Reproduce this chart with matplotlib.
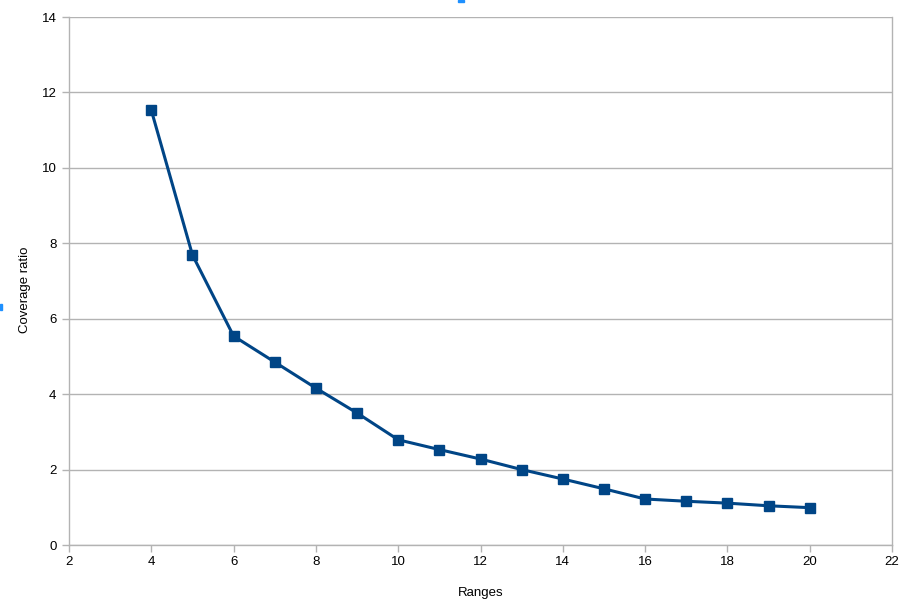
import matplotlib
matplotlib.use("Agg")
import matplotlib.pyplot as plt
from matplotlib.patches import Rectangle

plt.rcParams['font.family'] = ['Liberation Sans', 'DejaVu Sans']

ranges = [4, 5, 6, 7, 8, 9, 10, 11, 12, 13, 14, 15, 16, 17, 18, 19, 20]
coverage = [11.53, 7.69, 5.54, 4.85, 4.16, 3.50, 2.79, 2.53, 2.28, 2.00, 1.75, 1.49, 1.22, 1.16, 1.11, 1.04, 0.99]
x_ticks = [2, 4, 6, 8, 10, 12, 14, 16, 18, 20, 22]
y_ticks = [0, 2, 4, 6, 8, 10, 12, 14]

fig = plt.figure(figsize=(9.21, 6.16), dpi=100)
ax = fig.add_axes([69/921, 71/616, (892-69)/921, (545-17)/616])

grid_c = '#b3b3b3'
ax.plot(ranges, coverage, color='#004586', linewidth=2.2, marker='s',
        markersize=7, markerfacecolor='#004586', markeredgecolor='#004586', zorder=3)

ax.set_xlim(2, 22)
ax.set_ylim(0, 14)
ax.set_xticks(x_ticks)
ax.set_yticks(y_ticks)
ax.yaxis.grid(True, color=grid_c, linewidth=1)
ax.set_axisbelow(True)
for s in ['left', 'bottom', 'right']:
    ax.spines[s].set_color(grid_c)
    ax.spines[s].set_linewidth(1)
ax.spines['top'].set_visible(False)
ax.tick_params(axis='both', colors=grid_c, labelcolor='black', labelsize=9.5, length=5, width=1)
ax.tick_params(axis='y', pad=4)
ax.tick_params(axis='x', pad=3)

ax.set_xlabel('Ranges', fontsize=9.5)
ax.set_ylabel('Coverage ratio', fontsize=9.5)
ax.xaxis.set_label_coords(0.5, (545 - 593) / 528, transform=ax.transAxes)
ax.yaxis.set_label_coords((25 - 69) / 823, (545 - 290) / 528, transform=ax.transAxes)
ax.xaxis.label.set_va('center')
ax.yaxis.label.set_ha('center')
ax.yaxis.label.set_va('center')

# small selection handle marks
fig.patches.append(Rectangle((458/921, 1 - 2/616), 6/921, 2/616, transform=fig.transFigure, color='#1e90ff'))
fig.patches.append(Rectangle((0, 1 - 310/616), 2/921, 6/616, transform=fig.transFigure, color='#1e90ff'))

fig.savefig('out.png', dpi=100)
